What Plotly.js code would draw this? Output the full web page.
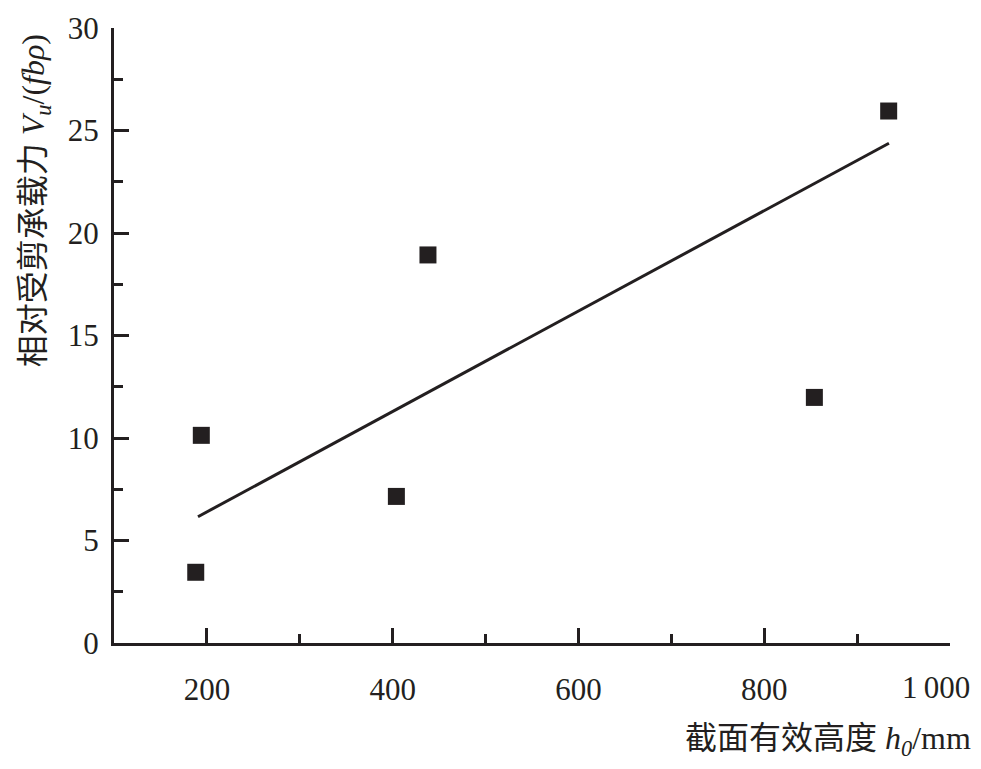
<!DOCTYPE html>
<html>
<head>
<meta charset="utf-8">
<script src="https://cdn.plot.ly/plotly-3.0.1.min.js"></script>
<style>html,body{margin:0;padding:0;background:#fff;}#chart{width:981px;height:769px;}</style>
</head>
<body>
<div id="chart"></div>
<script>
// Data
const depthMm = [188, 194, 404, 438, 854, 934];
const relShear = [3.45, 10.13, 7.15, 18.93, 11.98, 25.95];
const fitX = [190.4, 934.3];
const fitY = [6.16, 24.38];
const xTickVals = [200, 400, 600, 800, 1000];
const xTickText = ['200', '400', '600', '800', '1\u2009000'];
const yTickVals = [0, 5, 10, 15, 20, 25, 30];
const yTickText = ['0', '5', '10', '15', '20', '25', '30'];

const ink = '#231f20';
const serif = 'Liberation Serif';
const mixed = 'Liberation Serif, Noto Sans CJK SC';

// the last x label sits at the window edge in the reference, so it is drawn as an annotation nudged left
const lastIdx = xTickVals.length - 1;
const xAxisText = xTickText.map((t, i) => i === lastIdx ? '' : t);

const traces = [
  {x: fitX, y: fitY, mode: 'lines', line: {color: ink, width: 3}, showlegend: false, hoverinfo: 'skip'},
  {x: depthMm, y: relShear, mode: 'markers', marker: {symbol: 'square', size: 17, color: ink, line: {width: 0}}, showlegend: false}
];

const layout = {
  width: 981, height: 769,
  margin: {l: 114, r: 31, t: 28, b: 126},
  paper_bgcolor: '#fff', plot_bgcolor: '#fff',
  font: {family: serif, color: ink, size: 31},
  xaxis: {
    range: [100, 1000.01], showgrid: false, zeroline: false,
    showline: true, linecolor: ink, linewidth: 3,
    ticks: 'inside', ticklen: 15, tickwidth: 3, tickcolor: ink,
    tickmode: 'array', tickvals: xTickVals, ticktext: xAxisText,
    tickfont: {family: serif, size: 31, color: ink},
    ticklabelstandoff: 17,
    minor: {ticks: 'inside', ticklen: 9, tickwidth: 3, tickcolor: ink, dtick: 100, tick0: 100, showgrid: false}
  },
  yaxis: {
    range: [0, 30], showgrid: false, zeroline: false,
    showline: true, linecolor: ink, linewidth: 3,
    ticks: 'inside', ticklen: 15, tickwidth: 3, tickcolor: ink,
    tickmode: 'array', tickvals: yTickVals, ticktext: yTickText,
    tickfont: {family: serif, size: 31, color: ink},
    ticklabelstandoff: 6, ticklabeloverflow: 'allow',
    minor: {ticks: 'inside', ticklen: 9, tickwidth: 3, tickcolor: ink, dtick: 2.5, tick0: 0, showgrid: false}
  },
  annotations: [
    {xref: 'x', yref: 'paper', x: xTickVals[lastIdx], y: -0.073, xanchor: 'center', yanchor: 'middle', xshift: -14,
     showarrow: false, text: xTickText[lastIdx], font: {family: serif, size: 31, color: ink}},
    {xref: 'paper', yref: 'paper', x: 1.027, y: -0.158, xanchor: 'right', yanchor: 'middle', showarrow: false,
     text: '截面有效高度 <i>h</i><sub><i>0</i></sub>/mm', font: {family: mixed, size: 32, color: ink}},
    {xref: 'paper', yref: 'paper', x: -0.0945, y: 0.72, xanchor: 'center', yanchor: 'middle', showarrow: false, textangle: -90,
     text: '相对受剪承载力 <i>V</i><sub><i>u</i></sub>/(<i>fbρ</i>)', font: {family: mixed, size: 32, color: ink}}
  ]
};

Plotly.newPlot('chart', traces, layout, {displayModeBar: false, staticPlot: true});
</script>
</body>
</html>
